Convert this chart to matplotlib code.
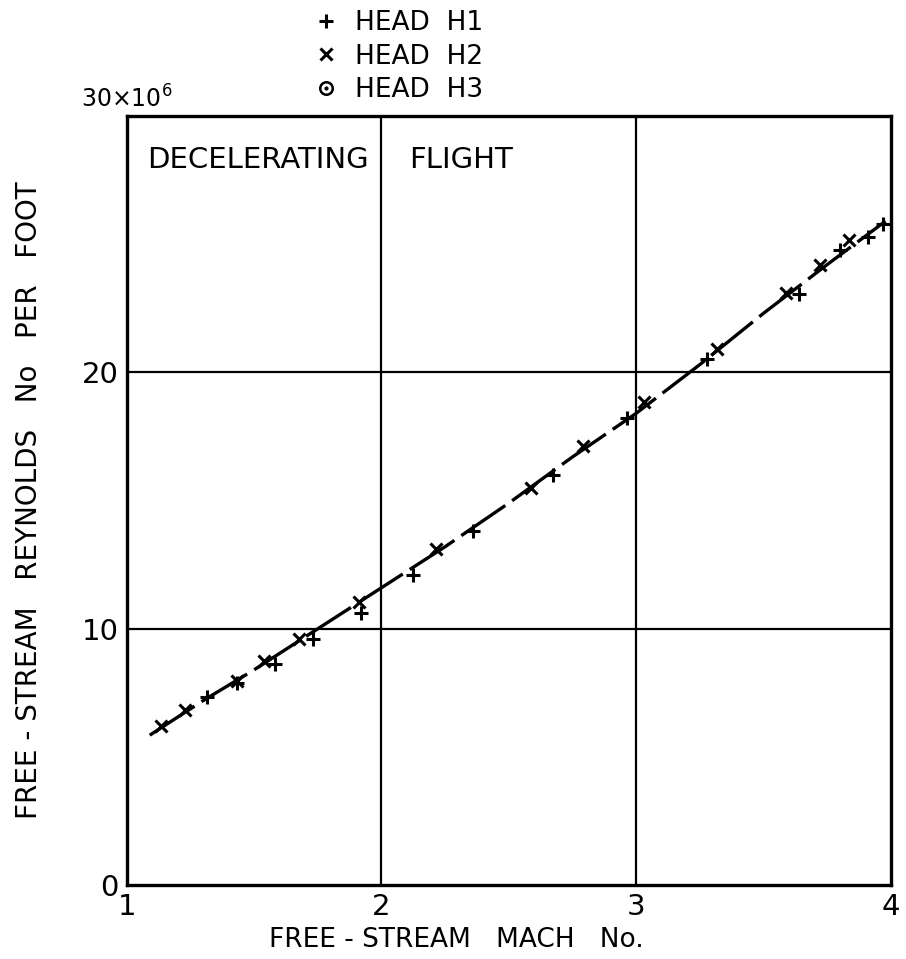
import matplotlib
matplotlib.use("Agg")
import matplotlib.pyplot as plt
from matplotlib.lines import Line2D
from matplotlib.legend_handler import HandlerTuple

# ---- data ----
h1_mach = [1.314, 1.432, 1.581, 1.731, 1.919, 2.124, 2.360, 2.674, 2.965, 3.279, 3.640, 3.800, 3.910, 3.970]
h1_re   = [7.34, 7.90, 8.62, 9.60, 10.60, 12.10, 13.80, 16.00, 18.22, 20.52, 23.06, 24.78, 25.30, 25.80]
h2_mach = [1.134, 1.228, 1.432, 1.538, 1.676, 1.912, 2.214, 2.587, 2.790, 3.031, 3.318, 3.589, 3.723, 3.837]
h2_re   = [6.20, 6.83, 7.95, 8.74, 9.60, 11.04, 13.10, 15.50, 17.13, 18.85, 20.90, 23.10, 24.19, 25.17]
curve_mach = [1.09, 1.30, 1.50, 1.75, 2.00, 2.25, 2.50, 2.75, 3.00, 3.25, 3.50, 3.75, 3.98]
curve_re   = [5.85, 7.20, 8.40, 10.00, 11.60, 13.20, 14.90, 16.70, 18.40, 20.30, 22.30, 24.20, 25.90]
x_ticks = [1, 2, 3, 4]
x_labels = ["1", "2", "3", "4"]
y_ticks = [0, 10, 20]
y_labels = ["0", "10", "20"]

fig = plt.figure(figsize=(9.06, 9.59), dpi=100)
ax = fig.add_axes([0.140, 0.077, 0.843, 0.802])
ax.set_xlim(1, 4)
ax.set_ylim(0, 30)

for g in [2, 3]:
    ax.axvline(g, color="black", lw=1.6, zorder=1)
for g in [10, 20]:
    ax.axhline(g, color="black", lw=1.6, zorder=1)

ax.plot(curve_mach, curve_re, color="black", lw=2.4, dashes=(16, 2.5), zorder=2)
ax.plot(h1_mach, h1_re, ls="none", marker="+", ms=10, mew=2.2, color="black", zorder=3)
ax.plot(h2_mach, h2_re, ls="none", marker="x", ms=8, mew=2.2, color="black", zorder=3)

for s in ax.spines.values():
    s.set_linewidth(2.4)

ax.set_xticks(x_ticks)
ax.set_xticklabels(x_labels)
ax.set_yticks(y_ticks)
ax.set_yticklabels(y_labels)
ax.tick_params(length=0, labelsize=21, pad=6)

ax.text(0.0, 1.005, r"30$\times$10$^6$", transform=ax.transAxes, ha="center", va="bottom", fontsize=17)
ax.set_xlabel("FREE - STREAM   MACH   No.", fontsize=19)
ax.xaxis.set_label_coords(0.432, -0.0715, transform=ax.transAxes)
ax.xaxis.label.set_va("center")
ax.set_ylabel("FREE - STREAM   REYNOLDS   No   PER   FOOT", fontsize=20, labelpad=28)
ax.text(0.027, 0.943, "DECELERATING", transform=ax.transAxes, ha="left", va="center", fontsize=21)
ax.text(0.370, 0.943, "FLIGHT", transform=ax.transAxes, ha="left", va="center", fontsize=21)

h_plus = Line2D([], [], ls="none", marker="+", ms=10, mew=2.2, color="black")
h_x = Line2D([], [], ls="none", marker="x", ms=8, mew=2.2, color="black")
h_c1 = Line2D([], [], ls="none", marker="o", ms=9, mew=1.8, mfc="white", color="black")
h_c2 = Line2D([], [], ls="none", marker=".", ms=4, color="black")
ax.legend([h_plus, h_x, (h_c1, h_c2)], ["HEAD  H1", "HEAD  H2", "HEAD  H3"],
          handler_map={tuple: HandlerTuple(ndivide=1, pad=0)},
          loc="lower left", bbox_to_anchor=(0.243, 1.017), frameon=False,
          fontsize=19, handlelength=1.0, handletextpad=0.6, labelspacing=0.28,
          borderpad=0, borderaxespad=0)

fig.savefig("out.png", dpi=100)
